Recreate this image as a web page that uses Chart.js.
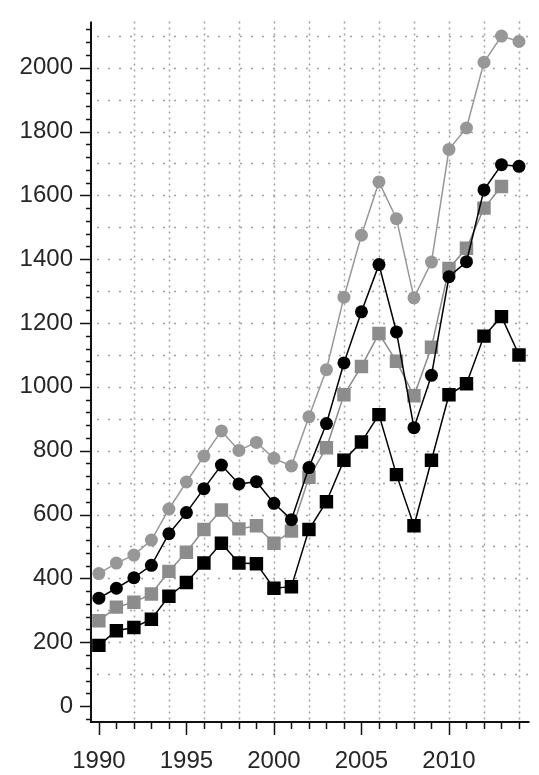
<!DOCTYPE html>
<html>
<head>
<meta charset="utf-8">
<script src="https://cdn.jsdelivr.net/npm/chart.js@4.4.0/dist/chart.umd.min.js"></script>
<style>
  html, body { margin: 0; padding: 0; background: #fff; }
  canvas { display: block; }
</style>
</head>
<body>
<canvas id="myChart" width="539" height="775"></canvas>
<script>
// data
const years = [1990, 1991, 1992, 1993, 1994, 1995, 1996, 1997, 1998, 1999, 2000, 2001, 2002,
  2003, 2004, 2005, 2006, 2007, 2008, 2009, 2010, 2011, 2012, 2013, 2014];
const grayCircles = [415, 448, 473, 520, 617, 702, 783, 862, 801, 826, 776, 752, 906,
  1054, 1281, 1475, 1642, 1527, 1279, 1391, 1744, 1811, 2017, 2099, 2082];
const blackCircles = [338, 369, 402, 441, 540, 606, 681, 755, 696, 703, 635, 584, 747,
  885, 1075, 1235, 1383, 1172, 872, 1036, 1345, 1392, 1617, 1696, 1691];
const graySquares = [267, 310, 325, 351, 422, 482, 553, 614, 555, 565, 510, 548, 717,
  809, 975, 1064, 1167, 1080, 972, 1124, 1371, 1434, 1560, 1628, null];
const blackSquares = [190, 236, 246, 272, 344, 387, 448, 510, 448, 446, 369, 374, 553,
  640, 770, 827, 913, 725, 565, 770, 975, 1010, 1159, 1220, 1100];

// tick labels
const xLabels = [1990, 1995, 2000, 2005, 2010];
const yLabels = [0, 200, 400, 600, 800, 1000, 1200, 1400, 1600, 1800, 2000];

function pts(vals) {
  return years.map((yr, i) => ({ x: yr, y: vals[i] }));
}

// dotted grid, axis lines and minor ticks
const axisMarks = {
  id: 'axisMarks',
  beforeDatasetsDraw(chart) {
    const { ctx, chartArea: a, scales: { x, y } } = chart;
    ctx.save();
    ctx.strokeStyle = '#a0a0a0';
    ctx.lineWidth = 1.5;
    ctx.setLineDash([2, 9]);
    for (let v = 100; v <= 2100; v += 100) {
      const py = Math.round(y.getPixelForValue(v)) + 0.5;
      ctx.beginPath(); ctx.moveTo(a.left + 6, py); ctx.lineTo(a.right, py); ctx.stroke();
    }
    ctx.setLineDash([2, 4]);
    for (let v = 1992; v <= 2014; v += 2) {
      const px = Math.round(x.getPixelForValue(v)) + 0.5;
      ctx.beginPath(); ctx.moveTo(px, a.top); ctx.lineTo(px, a.bottom); ctx.stroke();
    }
    ctx.restore();
  },
  afterDraw(chart) {
    const { ctx, chartArea: a, scales: { x, y } } = chart;
    ctx.save();
    ctx.strokeStyle = '#111';
    ctx.lineWidth = 2;
    ctx.beginPath();
    ctx.moveTo(a.left, a.top); ctx.lineTo(a.left, a.bottom); ctx.lineTo(a.right, a.bottom);
    ctx.stroke();
    ctx.lineWidth = 1.5;
    for (let v = -40; v <= 2140; v += 40) {
      const py = Math.round(y.getPixelForValue(v)) + 0.5;
      const len = v % 200 === 0 ? 11 : 5;
      ctx.beginPath(); ctx.moveTo(a.left - len, py); ctx.lineTo(a.left, py); ctx.stroke();
    }
    for (let v = 1990; v <= 2014; v++) {
      const px = Math.round(x.getPixelForValue(v)) + 0.5;
      const len = v % 5 === 0 ? 13 : 7;
      ctx.beginPath(); ctx.moveTo(px, a.bottom); ctx.lineTo(px, a.bottom + len); ctx.stroke();
    }
    ctx.restore();
  }
};

const config = {
  type: 'line',
  data: {
    datasets: [{
      label: 'black circles',
      data: pts(blackCircles),
      borderColor: '#000',
      backgroundColor: '#000',
      borderWidth: 1.5,
      pointStyle: 'circle',
      pointRadius: 6.5,
      pointBorderWidth: 0
    }, {
      label: 'black squares',
      data: pts(blackSquares),
      borderColor: '#000',
      backgroundColor: '#000',
      borderWidth: 1.5,
      pointStyle: 'rect',
      pointRadius: 9.5,
      pointBorderWidth: 0
    }, {
      label: 'gray squares',
      data: pts(graySquares),
      borderColor: '#8c8c8c',
      backgroundColor: '#8c8c8c',
      borderWidth: 1.5,
      pointStyle: 'rect',
      pointRadius: 9.5,
      pointBorderWidth: 0
    }, {
      label: 'gray circles',
      data: pts(grayCircles),
      borderColor: '#979797',
      backgroundColor: '#979797',
      borderWidth: 1.5,
      pointStyle: 'circle',
      pointRadius: 6.5,
      pointBorderWidth: 0
    }]
  },
  options: {
    responsive: false,
    animation: false,
    devicePixelRatio: 1,
    layout: { padding: { top: 8, right: 1, left: 0, bottom: 0 } },
    plugins: { legend: { display: false }, tooltip: { enabled: false } },
    scales: {
      x: {
        type: 'linear',
        min: 1989.55,
        max: 2014.6,
        afterBuildTicks: (s) => { s.ticks = xLabels.map(v => ({ value: v })); },
        afterFit: (s) => { s.height = 53; },
        grid: { display: true, drawOnChartArea: false, color: 'rgba(0,0,0,0)', tickLength: 13 },
        border: { display: false },
        ticks: {
          autoSkip: false, maxRotation: 0, padding: 12,
          color: '#262626',
          font: { family: 'Liberation Sans, Arial, sans-serif', size: 24 },
          callback: (v) => String(v)
        }
      },
      y: {
        min: -50,
        max: 2145,
        afterBuildTicks: (s) => { s.ticks = yLabels.map(v => ({ value: v })); },
        afterFit: (s) => { s.width = 91; },
        grid: { display: true, drawOnChartArea: false, color: 'rgba(0,0,0,0)', tickLength: 11 },
        border: { display: false },
        ticks: {
          padding: 7,
          color: '#262626',
          font: { family: 'Liberation Sans, Arial, sans-serif', size: 24 },
          callback: (v) => String(v)
        }
      }
    }
  },
  plugins: [axisMarks]
};

const myChart = new Chart(document.getElementById('myChart'), config);
</script>
</body>
</html>
